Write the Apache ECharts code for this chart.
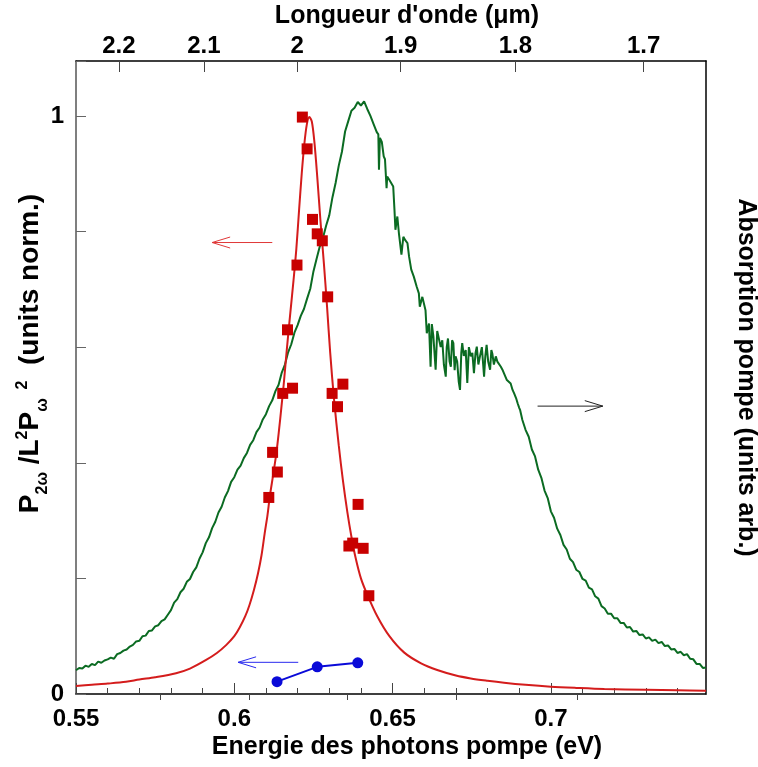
<!DOCTYPE html>
<html>
<head>
<meta charset="utf-8">
<script src="https://cdn.jsdelivr.net/npm/echarts@6/dist/echarts.min.js"></script>
</head>
<body style="margin:0">
<div id="chart" style="width:758px;height:767px"></div>
<script>
var FONT = "'Liberation Sans', Arial, sans-serif";
var HC = 1.2398; // eV.um

// bottom axis ticks (eV)
var energyMinor = [0.56, 0.57, 0.58, 0.59, 0.61, 0.62, 0.63, 0.64, 0.66, 0.67, 0.68, 0.69, 0.71, 0.72, 0.73, 0.74];
// top axis ticks (um)
var lambdaMajor = [2.2, 2.1, 2.0, 1.9, 1.8, 1.7];
var lambdaMinor = [2.15, 2.05, 1.95, 1.85, 1.75];

// P2w / L^2 Pw^2 measured (red squares)
var shgE = [0.6215, 0.6230, 0.6247, 0.6262, 0.6278, 0.6198, 0.6295, 0.6168, 0.6184, 0.6153, 0.6343,
            0.6309, 0.6326, 0.6121, 0.6136, 0.6109, 0.6391, 0.6362, 0.6374, 0.6407, 0.6425];
var shgV = [0.998, 0.943, 0.821, 0.796, 0.784, 0.742, 0.687, 0.630, 0.529, 0.520, 0.536,
            0.520, 0.497, 0.418, 0.384, 0.340, 0.328, 0.256, 0.261, 0.252, 0.170];

// lorentzian fit (red line)
var fitE = [0.550, 0.555, 0.560, 0.5658, 0.570, 0.575, 0.5816, 0.586, 0.5911, 0.5945, 0.5975, 0.600, 0.6017,
            0.6035, 0.6048, 0.6062, 0.6075, 0.6086, 0.6096, 0.6105, 0.6112, 0.6123, 0.6133, 0.6141, 0.6149,
            0.6156, 0.6162, 0.6170, 0.6178, 0.6187, 0.6196, 0.6205, 0.6213, 0.6221, 0.6229, 0.6237, 0.6245,
            0.6253, 0.6262, 0.6272, 0.6283, 0.6293, 0.6303, 0.6315, 0.6330, 0.6343, 0.6357, 0.6370, 0.6383,
            0.640, 0.642, 0.6452, 0.6490, 0.6536, 0.659, 0.6641, 0.670, 0.6747, 0.680, 0.6852, 0.692, 0.700,
            0.708, 0.7169, 0.730, 0.740, 0.749];
var fitV = [0.0138, 0.016, 0.018, 0.021, 0.025, 0.029, 0.036, 0.044, 0.059, 0.071, 0.085, 0.100, 0.115,
            0.135, 0.154, 0.180, 0.209, 0.240, 0.278, 0.310, 0.341, 0.380, 0.417, 0.455, 0.497,
            0.535, 0.572, 0.620, 0.665, 0.715, 0.770, 0.840, 0.900, 0.950, 0.985, 0.998, 0.990,
            0.955, 0.895, 0.820, 0.745, 0.670, 0.590, 0.510, 0.430, 0.370, 0.315, 0.272, 0.236,
            0.200, 0.172, 0.134, 0.100, 0.072, 0.053, 0.0415, 0.032, 0.027, 0.023, 0.0196, 0.016, 0.0127,
            0.0105, 0.0085, 0.0072, 0.0064, 0.0057];

// blue points
var blueE = [0.6135, 0.6262, 0.6390];
var blueV = [0.0213, 0.047, 0.054];

// pump absorption (green, arb. units)
var absorption = [
  [0.550,0.041],[0.551,0.045],[0.552,0.044],[0.553,0.049],[0.554,0.047],[0.555,0.052],[0.556,0.050],
  [0.557,0.056],[0.558,0.054],[0.559,0.058],[0.560,0.060],[0.561,0.063],[0.562,0.061],[0.563,0.069],
  [0.564,0.071],[0.565,0.075],[0.566,0.077],[0.567,0.082],[0.568,0.085],[0.569,0.091],[0.570,0.092],
  [0.571,0.100],[0.572,0.101],[0.573,0.109],[0.574,0.110],[0.575,0.117],[0.576,0.119],[0.577,0.126],
  [0.578,0.129],[0.579,0.137],[0.580,0.145],[0.581,0.158],[0.582,0.164],[0.583,0.176],[0.584,0.182],
  [0.585,0.194],[0.586,0.199],[0.587,0.211],[0.588,0.219],[0.589,0.234],[0.590,0.245],[0.591,0.261],
  [0.592,0.271],[0.593,0.287],[0.594,0.298],[0.595,0.314],[0.596,0.324],[0.597,0.340],[0.598,0.351],
  [0.599,0.367],[0.600,0.375],[0.601,0.388],[0.602,0.395],[0.603,0.408],[0.604,0.417],[0.605,0.431],
  [0.606,0.439],[0.607,0.453],[0.608,0.461],[0.609,0.475],[0.610,0.484],[0.611,0.498],[0.612,0.508],
  [0.613,0.524],[0.614,0.535],[0.615,0.556],[0.616,0.570],[0.617,0.591],[0.618,0.605],[0.619,0.625],
  [0.620,0.638],[0.621,0.654],[0.622,0.666],[0.623,0.684],[0.624,0.701],[0.625,0.731],[0.626,0.753],
  [0.627,0.774],[0.628,0.789],[0.629,0.810],[0.630,0.828],[0.631,0.859],[0.632,0.884],[0.633,0.914],
  [0.634,0.938],[0.635,0.973],[0.636,0.991],[0.637,1.009],[0.638,1.014],[0.639,1.024],[0.640,1.018],
  [0.641,1.025],[0.642,1.012],[0.643,1.000],[0.644,0.986],[0.645,0.972],
  [0.6455,0.968],[0.6457,0.907],[0.6460,0.962],[0.6466,0.955],[0.6472,0.930],[0.6476,0.925],
  [0.6481,0.875],[0.6483,0.895],[0.6490,0.889],[0.6502,0.878],[0.6506,0.837],[0.6509,0.803],
  [0.6515,0.826],[0.6520,0.797],[0.6528,0.760],[0.6534,0.791],[0.6540,0.785],[0.6547,0.780],
  [0.6552,0.757],[0.6559,0.734],[0.6567,0.722],[0.6576,0.705],[0.6583,0.693],[0.6586,0.670],
  [0.6594,0.687],[0.6604,0.664],[0.6608,0.624],[0.6615,0.641],[0.6620,0.566],[0.6624,0.640],
  [0.6629,0.618],[0.6636,0.561],[0.6641,0.628],[0.6647,0.630],[0.6652,0.600],[0.6657,0.612],
  [0.6662,0.570],[0.6668,0.549],[0.6671,0.600],[0.6675,0.615],[0.6680,0.575],[0.6684,0.566],
  [0.6688,0.612],[0.6692,0.607],[0.6696,0.560],[0.6699,0.584],[0.6704,0.575],[0.6709,0.540],
  [0.6713,0.526],[0.6717,0.590],[0.6720,0.607],[0.6725,0.585],[0.6731,0.595],[0.6736,0.538],
  [0.6741,0.600],[0.6747,0.584],[0.6752,0.590],[0.6757,0.555],[0.6762,0.590],[0.6766,0.601],
  [0.6771,0.570],[0.6776,0.584],[0.6782,0.600],[0.6789,0.549],[0.6793,0.585],[0.6797,0.604],
  [0.6802,0.575],[0.6808,0.561],[0.6812,0.595],[0.6815,0.589],[0.6820,0.570],[0.6826,0.584],
  [0.6831,0.575],[0.6836,0.572],[0.6842,0.566],[0.6847,0.561],[0.6854,0.552],[0.6861,0.543],
  [0.6867,0.540],[0.6873,0.537],[0.6879,0.526],[0.6884,0.520],[0.6890,0.512],[0.6895,0.503],
  [0.6900,0.495],[0.6903,0.491],[0.6910,0.474],
  [0.692,0.457],[0.693,0.445],[0.694,0.423],[0.695,0.411],[0.696,0.388],[0.697,0.374],[0.698,0.352],
  [0.699,0.339],[0.700,0.316],[0.701,0.305],[0.702,0.286],[0.703,0.275],[0.704,0.258],[0.705,0.250],
  [0.706,0.234],[0.707,0.228],[0.708,0.215],[0.709,0.211],[0.710,0.199],[0.711,0.196],[0.712,0.184],
  [0.713,0.181],[0.714,0.169],[0.715,0.165],[0.716,0.152],[0.717,0.148],[0.718,0.139],[0.719,0.139],
  [0.720,0.131],[0.721,0.131],[0.722,0.123],[0.723,0.123],[0.724,0.115],[0.725,0.116],[0.726,0.108],
  [0.727,0.109],[0.728,0.102],[0.729,0.103],[0.730,0.096],[0.731,0.098],[0.732,0.092],[0.733,0.094],
  [0.734,0.088],[0.735,0.090],[0.736,0.083],[0.737,0.084],[0.738,0.077],[0.739,0.078],[0.740,0.071],
  [0.741,0.073],[0.742,0.067],[0.743,0.069],[0.744,0.061],[0.745,0.060],[0.746,0.052],[0.747,0.052],
  [0.748,0.045],[0.749,0.046]
];

// arrows: [from E, from v, to E, to v]
var arrows = [
  [0.6120, 0.781, 0.5930, 0.781],
  [0.6958, 0.498, 0.7164, 0.498],
  [0.6202, 0.0548, 0.6012, 0.0548]
];
var arrowColors = ['#e03838', '#222222', '#2a2aee'];

function zip(a, b) { return a.map(function (v, i) { return [v, b[i]]; }); }
function toEnergy(l) { return HC / l; }

var chart = echarts.init(document.getElementById('chart'));

var labelStyle = { fontFamily: FONT, fontSize: 24, fontWeight: 'bold', color: '#000' };
var nameStyle = { fontFamily: FONT, fontSize: 25, fontWeight: 'bold', color: '#000' };

var option = {
  animation: false,
  backgroundColor: '#fff',
  grid: { left: 76, right: 52, top: 61, bottom: 73, containLabel: false, outerBoundsMode: 'none' },
  xAxis: [
    {
      type: 'value', position: 'bottom', min: 0.55, max: 0.749, interval: 0.05,
      axisLine: { onZero: false, lineStyle: { color: '#000', width: 1.5 } },
      axisTick: { inside: true, length: 11, lineStyle: { color: '#444' } },
      axisLabel: Object.assign({ margin: 13, formatter: function (v) {
        return Math.abs(v * 20 - Math.round(v * 20)) < 1e-6 ? String(+v.toFixed(2)) : '';
      } }, labelStyle),
      splitLine: { show: false },
      name: 'Energie des photons pompe (eV)', nameLocation: 'middle', nameGap: 41, nameMoveOverlap: false,
      nameTextStyle: Object.assign({ padding: [0, 0, 0, 32] }, nameStyle)
    },
    {
      type: 'value', position: 'bottom', min: 0.55, max: 0.749,
      axisLine: { show: false },
      axisTick: { inside: true, length: 6, customValues: energyMinor, lineStyle: { color: '#444' } },
      axisLabel: { show: false, customValues: energyMinor },
      splitLine: { show: false }
    },
    {
      type: 'value', position: 'top', min: 0.55, max: 0.749,
      axisLine: { onZero: false, lineStyle: { color: '#000', width: 1.5 } },
      axisTick: { inside: true, length: 11, customValues: lambdaMajor.map(toEnergy), lineStyle: { color: '#444' } },
      axisLabel: Object.assign({ margin: 3, customValues: lambdaMajor.map(toEnergy), formatter: function (v) {
        return String(+(HC / v).toFixed(1));
      } }, labelStyle),
      splitLine: { show: false },
      name: 'Longueur d\'onde (\u03bcm)', nameLocation: 'middle', nameGap: 32, nameMoveOverlap: false,
      nameTextStyle: Object.assign({ padding: [0, 0, 0, 32] }, nameStyle)
    },
    {
      type: 'value', position: 'top', min: 0.55, max: 0.749,
      axisLine: { show: false },
      axisTick: { inside: true, length: 6, customValues: lambdaMinor.map(toEnergy), lineStyle: { color: '#444' } },
      axisLabel: { show: false, customValues: lambdaMinor.map(toEnergy) },
      splitLine: { show: false }
    }
  ],
  yAxis: [
    {
      type: 'value', position: 'left', min: 0, max: 1.095, interval: 0.2,
      axisLine: { show: true, onZero: false, lineStyle: { color: '#555', width: 1.5 } },
      axisTick: { inside: true, length: 10, lineStyle: { color: '#666' } },
      axisLabel: Object.assign({ margin: 12, formatter: function (v) {
        if (v === 0) return '0';
        if (Math.abs(v - 1) < 1e-9) return '1';
        return '';
      } }, labelStyle),
      splitLine: { show: false },
      name: '{b|P}{s|2\u03c9}{b| /L}{p|2}{b|P}{s|\u03c9}{p|  2}{b|  (units norm.)}',
      nameLocation: 'middle', nameRotate: 90, nameGap: 25, nameMoveOverlap: false,
      nameTextStyle: {
        fontFamily: FONT, fontSize: 28, fontWeight: 'bold', color: '#000', lineHeight: 42,
        padding: [0, 0, 0, 48],
        rich: {
          b: { fontFamily: FONT, fontSize: 28, fontWeight: 'bold', color: '#000' },
          s: { fontFamily: FONT, fontSize: 16, fontWeight: 'bold', color: '#000', verticalAlign: 'bottom' },
          p: { fontFamily: FONT, fontSize: 16, fontWeight: 'bold', color: '#000', verticalAlign: 'top', padding: [6, 0, 0, 0] }
        }
      }
    },
    {
      type: 'value', position: 'right', min: 0, max: 1.095,
      axisLine: { show: true, onZero: false, lineStyle: { color: '#000', width: 1.5 } },
      axisTick: { show: false },
      axisLabel: { show: false },
      splitLine: { show: false },
      name: 'Absorption pompe (units arb.)', nameLocation: 'middle', nameRotate: -90, nameGap: 27,
      nameMoveOverlap: false,
      nameTextStyle: nameStyle
    }
  ],
  series: [
    {
      name: 'Absorption', type: 'line', xAxisIndex: 0, yAxisIndex: 1,
      data: absorption, showSymbol: false,
      lineStyle: { color: '#0b6b22', width: 2 }, z: 1
    },
    {
      name: 'Fit', type: 'line', xAxisIndex: 0, yAxisIndex: 0,
      data: zip(fitE, fitV), showSymbol: false, smooth: 0.3,
      lineStyle: { color: '#d41c1c', width: 2 }, z: 2
    },
    {
      name: 'SHG', type: 'scatter', xAxisIndex: 0, yAxisIndex: 0,
      data: zip(shgE, shgV), symbol: 'rect', symbolSize: 11,
      itemStyle: { color: '#c80000', opacity: 1 }, z: 3
    },
    {
      name: 'Blue', type: 'line', xAxisIndex: 0, yAxisIndex: 0,
      data: zip(blueE, blueV), symbol: 'circle', symbolSize: 11, showSymbol: true,
      lineStyle: { color: '#0a0ad8', width: 2 }, itemStyle: { color: '#0a0ad8' }, z: 3
    },
    {
      name: 'Arrows', type: 'custom', xAxisIndex: 0, yAxisIndex: 0, clip: false,
      data: arrows,
      renderItem: function (params, api) {
        var a = api.coord([api.value(0), api.value(1)]);
        var b = api.coord([api.value(2), api.value(3)]);
        var col = arrowColors[params.dataIndex];
        var dx = b[0] - a[0], dy = b[1] - a[1];
        var len = Math.sqrt(dx * dx + dy * dy);
        var ux = dx / len, uy = dy / len;
        var head = 18, half = 5.5;
        var p1 = [b[0] - ux * head - uy * half, b[1] - uy * head + ux * half];
        var p2 = [b[0] - ux * head + uy * half, b[1] - uy * head - ux * half];
        return {
          type: 'group',
          children: [
            { type: 'line', shape: { x1: a[0], y1: a[1], x2: b[0], y2: b[1] }, style: { stroke: col, lineWidth: 1 } },
            { type: 'polyline', shape: { points: [p1, b, p2] }, style: { stroke: col, lineWidth: 1, fill: null } }
          ]
        };
      },
      z: 4
    }
  ]
};

chart.setOption(option);
</script>
</body>
</html>
